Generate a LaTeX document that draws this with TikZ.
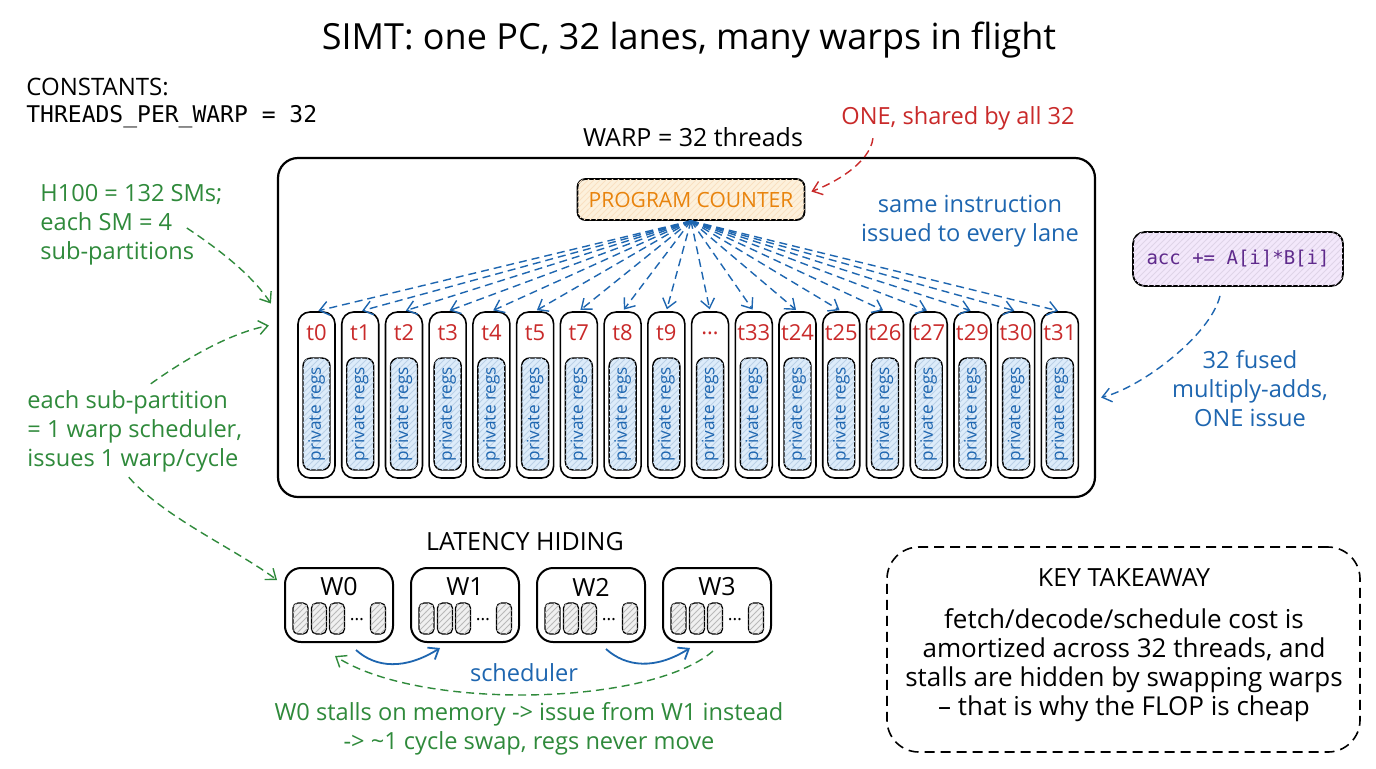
\documentclass[tikz,border=0pt]{standalone}
\usepackage{fontspec}
\setmainfont{Open Sans}
\setmonofont{DejaVu Sans Mono}
\usetikzlibrary{arrows.meta,patterns}
\definecolor{NoteClr}{RGB}{47,138,59}
\definecolor{IssueClr}{RGB}{30,102,176}
\definecolor{LaneClr}{RGB}{201,42,42}
\definecolor{PcClr}{RGB}{232,131,12}
\definecolor{PcFill}{RGB}{253,241,220}
\definecolor{RegFill}{RGB}{221,236,250}
\definecolor{OpClr}{RGB}{95,42,140}
\definecolor{OpFill}{RGB}{243,232,251}

\begin{document}
\begin{tikzpicture}[x=0.5pt,y=-0.5pt,
  every node/.style={inner sep=0pt},
  hand/.style={font=\fontsize{11.8}{14.5}\selectfont},
  barb/.style={-{Straight Barb[length=4.5pt,width=7pt]}},
  dashline/.style={line width=0.7pt,dash pattern=on 4pt off 2.5pt},
  warpbox/.style={draw,line width=1.1pt,rounded corners=10pt,minimum width=408.5pt,minimum height=169.5pt},
  lane/.style={draw,line width=0.8pt,rounded corners=6pt,minimum width=18.5pt,minimum height=83pt},
  lanelbl/.style={font=\fontsize{11}{12}\selectfont,text=LaneClr},
  regs/.style={draw,line width=0.7pt,rounded corners=4pt,minimum width=56pt,minimum height=13.5pt,
    fill=RegFill,postaction={pattern=north east lines,pattern color=IssueClr!30},
    font=\fontsize{8.6}{10}\selectfont,text=IssueClr},
  pcbox/.style={draw,line width=0.9pt,rounded corners=4pt,minimum width=113.5pt,minimum height=20.5pt,
    fill=PcFill,postaction={pattern=north east lines,pattern color=PcClr!25},
    font=\fontsize{10.5}{12}\selectfont,text=PcClr},
  opbox/.style={draw,line width=0.9pt,rounded corners=6pt,minimum width=105pt,minimum height=27pt,
    fill=OpFill,postaction={pattern=north east lines,pattern color=OpClr!20},
    font=\ttfamily\fontsize{9.5}{11}\selectfont,text=OpClr},
  wbox/.style={draw,line width=1pt,rounded corners=8pt,minimum width=54pt,minimum height=37pt},
  wbar/.style={draw,line width=0.6pt,rounded corners=2.5pt,minimum width=7.5pt,minimum height=15.5pt,
    fill=gray!12,postaction={pattern=north east lines,pattern color=gray!55}},
  takebox/.style={draw,line width=0.8pt,dash pattern=on 5pt off 3pt,rounded corners=16pt,
    minimum width=236.5pt,minimum height=102.5pt}]

\useasboundingbox (0,0) rectangle (1376,768);
\fill[white] (0,0) rectangle (1376,768);

% heading and constants
\node[font=\fontsize{18}{20}\selectfont] (title) at (689,40) {SIMT: one PC, 32 lanes, many warps in flight};
\node[font=\fontsize{12}{14}\selectfont,anchor=west] (const) at (26,87) {CONSTANTS:};
\node[font=\ttfamily\fontsize{11.5}{14}\selectfont,anchor=west] (tpw) at (26,117) {THREADS\_PER\_WARP = 32};

% the warp and its program counter
\node[warpbox] (warp) at (686.5,327.5) {};
\node[font=\fontsize{12.5}{14}\selectfont] (warplbl) at (693,137) {WARP = 32 threads};
\node[pcbox] (pc) at (691,199.5) {PROGRAM COUNTER};
\node[hand,text=LaneClr] (one) at (958,118) {ONE, shared by all 32};
\draw[dashline,barb,LaneClr] ([xshift=16pt,yshift=-4pt]one.south west)
  .. controls +(-3,25) and +(22,-8) .. ([xshift=3pt,yshift=4pt]pc.east);
\node[hand,text=IssueClr,align=center] (same) at (970,221.5) {same instruction\\issued to every lane};

% 32 lanes
\foreach \lbl [count=\i from 0] in {t0,t1,t2,t3,t4,t5,t7,t8,t9,\ldots,t33,t24,t25,t26,t27,t29,t30,t31}{
  \pgfmathsetmacro{\x}{316.5+43.73*\i}
  \node[lane] (lane\i) at (\x,395) {};
  \node[lanelbl] (lbl\i) at (\x,333) {\lbl};
  \node[regs,rotate=90] (regs\i) at (\x,414) {private regs};
  \draw[dashline,barb,IssueClr,shorten >=1pt] (pc.south) -- (lane\i.north);
}

% one instruction, 32 FMAs
\node[opbox] (acc) at (1238,259) {acc += A[i]*B[i]};
\node[hand,text=IssueClr,align=center] (fma) at (1250,389) {32 fused\\multiply-adds,\\ONE issue};
\draw[dashline,barb,IssueClr] ([xshift=-9pt,yshift=-4.5pt]acc.south)
  .. controls +(-10,40) and +(40,-10) .. ([xshift=2.5pt,yshift=-35pt]warp.east);

% SM notes
\node[hand,text=NoteClr,anchor=west,align=left] (h100) at (40,225) {H100 = 132 SMs;\\each SM = 4\\sub-partitions};
\node[hand,text=NoteClr,anchor=west,align=left] (subpart) at (27,431) {each sub-partition\\= 1 warp scheduler,\\issues 1 warp/cycle};
\draw[dashline,barb,NoteClr] ([xshift=-18pt,yshift=-1.5pt]h100.east)
  .. controls +(30,20) and +(-20,-30) .. ([xshift=-3pt,yshift=12pt]warp.west);
\draw[dashline,barb,NoteClr] ([xshift=8pt,yshift=3pt]subpart.north)
  .. controls +(35,-25) and +(-40,8) .. ([xshift=-4pt,yshift=1pt]warp.west);

% latency hiding
\node[font=\fontsize{12.5}{14}\selectfont] (lat) at (525,542) {LATENCY HIDING};
\foreach \w [count=\j from 0] in {339,465,591,717}{
  \node[wbox] (w\j) at (\w,605) {};
  \node[font=\fontsize{12.5}{14}\selectfont] (wl\j) at (\w,587) {W\j};
  \foreach \o [count=\k] in {-38.5,-20,-2,39}
    \node[wbar] (bar\j\k) at (\w+\o,618.5) {};
  \node[font=\fontsize{9}{10}\selectfont] (dots\j) at (\w+18,620) {\ldots};
}
\draw[dashline,barb,NoteClr] ([xshift=-3pt,yshift=-2.5pt]subpart.south)
  .. controls +(35,40) and +(-40,-30) .. ([xshift=-3.5pt,yshift=12.5pt]w0.west);
\draw[line width=0.9pt,barb,IssueClr] ([xshift=8.5pt,yshift=-3.5pt]w0.south)
  .. controls +(20,18) and +(-35,22) .. ([xshift=-12.5pt,yshift=-2.5pt]w1.south);
\draw[line width=0.9pt,barb,IssueClr] ([xshift=7.5pt,yshift=-3pt]w2.south)
  .. controls +(20,18) and +(-35,22) .. ([xshift=-13.5pt,yshift=-2.5pt]w3.south);
\node[hand,text=IssueClr] (sched) at (524,673) {scheduler};
\draw[dashline,barb,NoteClr] ([xshift=-2pt,yshift=-4pt]w3.south)
  .. controls +(-63,55) and +(85,55) .. ([xshift=-2pt,yshift=-6.5pt]w0.south);
\node[hand,text=NoteClr,align=center] (stall) at (529,728.5) {W0 stalls on memory -> issue from W1 instead\\-> \textasciitilde1 cycle swap, regs never move};

% key takeaway
\node[takebox] (take) at (1123.5,649.5) {};
\node[font=\fontsize{12.5}{14}\selectfont] (taketitle) at (1124,578) {KEY TAKEAWAY};
\node[font=\fontsize{13}{14.5}\selectfont,align=center] (takebody) at (1124,665) {fetch/decode/schedule cost is\\amortized across 32 threads, and\\stalls are hidden by swapping warps\\-- that is why the FLOP is cheap};

\end{tikzpicture}
\end{document}
